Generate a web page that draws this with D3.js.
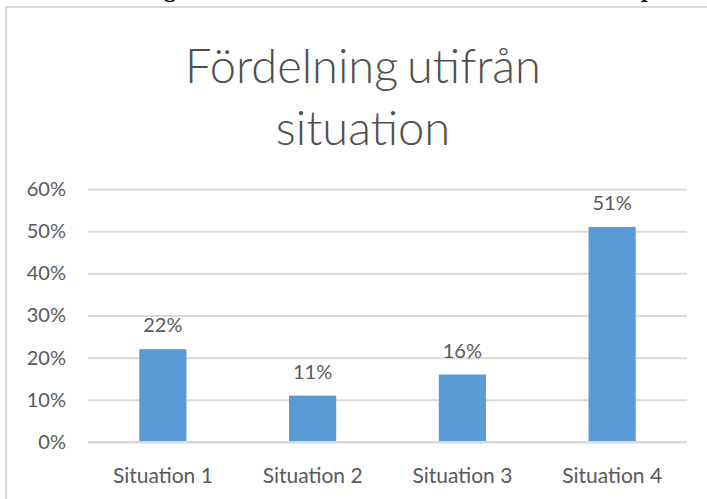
<!DOCTYPE html>
<html>
<head>
<meta charset="utf-8">
<script src="https://cdn.jsdelivr.net/npm/d3@7"></script>
<style>
  body { margin: 0; background: #fff; }
  svg text { font-family: Lato, "Open Sans", sans-serif; fill: #595959; }
</style>
</head>
<body>
<div id="chart"></div>
<script>
// data
var categories = ["Situation 1", "Situation 2", "Situation 3", "Situation 4"];
var shares = [22, 11, 16, 51];
var yTicks = [0, 10, 20, 30, 40, 50, 60];
var titleLines = ["Fördelning utifrån", "situation"];

var W = 707, H = 499;
var margin = {top: 189, right: 20, bottom: 57, left: 88};
var width = 687 - margin.left,
    height = 442 - margin.top;

var svg = d3.select("#chart").append("svg")
    .attr("width", W)
    .attr("height", H);

// leftover descenders of the page heading above the chart (cropped)
svg.append("text").attr("x", 164).attr("y", -3)
    .style("font", "bold 24px 'Liberation Serif', serif").style("fill", "#000").text("g");
svg.append("text").attr("x", 641).attr("y", -3)
    .style("font", "bold 24px 'Liberation Serif', serif").style("fill", "#000").text("p");

// chart border
svg.append("rect")
    .attr("x", 6).attr("y", 7)
    .attr("width", W + 10).attr("height", H + 10)
    .attr("fill", "none")
    .attr("stroke", "#d9d9d9")
    .attr("stroke-width", 2);

// title
svg.append("g").selectAll("text")
  .data(titleLines)
  .enter().append("text")
    .attr("x", 363)
    .attr("y", function(d, i) { return 83 + i * 62; })
    .attr("text-anchor", "middle")
    .style("font-size", "47px")
    .style("font-weight", 300)
    .style("fill", "#4f4f4f")
    .style("word-spacing", "-4px")
    .text(function(d) { return d; });

var x = d3.scaleBand().domain(categories).range([0, width]).paddingInner(0.685).paddingOuter(0.3425);
var y = d3.scaleLinear().domain([0, 60]).range([height, 0]);

var g = svg.append("g")
    .attr("transform", "translate(" + margin.left + "," + margin.top + ")");

// gridlines
g.append("g")
    .call(d3.axisLeft(y).tickValues(yTicks).tickSize(-width).tickFormat(""))
    .call(function(s) { s.select(".domain").remove(); })
    .selectAll("line")
      .attr("stroke", "#d9d9d9")
      .attr("stroke-width", 2);

// y labels
g.append("g")
    .call(d3.axisLeft(y).tickValues(yTicks).tickSize(0).tickPadding(22)
      .tickFormat(function(d) { return d + "%"; }))
    .call(function(s) { s.select(".domain").remove(); })
    .selectAll("text")
      .style("font-size", "20px")
      .style("fill", "#595959");

// bars
g.selectAll(".bar")
  .data(shares)
  .enter().append("rect")
    .attr("class", "bar")
    .attr("x", function(d, i) { return x(categories[i]); })
    .attr("y", function(d) { return y(d); })
    .attr("width", x.bandwidth())
    .attr("height", function(d) { return height - y(d); })
    .attr("fill", "#5b9bd5");

// data labels
g.selectAll(".lbl")
  .data(shares)
  .enter().append("text")
    .attr("class", "lbl")
    .attr("x", function(d, i) { return x(categories[i]) + x.bandwidth() / 2; })
    .attr("y", function(d) { return y(d) - 17; })
    .attr("text-anchor", "middle")
    .style("font-size", "20px")
    .text(function(d) { return d + "%"; });

// x axis line and labels
g.append("line")
    .attr("x1", 0).attr("x2", width)
    .attr("y1", height).attr("y2", height)
    .attr("stroke", "#d9d9d9").attr("stroke-width", 2);

g.append("g")
    .attr("transform", "translate(0," + height + ")")
    .call(d3.axisBottom(x).tickSize(0).tickPadding(0))
    .call(function(s) { s.select(".domain").remove(); })
    .selectAll("text")
      .attr("dy", null)
      .attr("y", 41)
      .style("font-size", "21px")
      .style("fill", "#595959");
</script>
</body>
</html>
